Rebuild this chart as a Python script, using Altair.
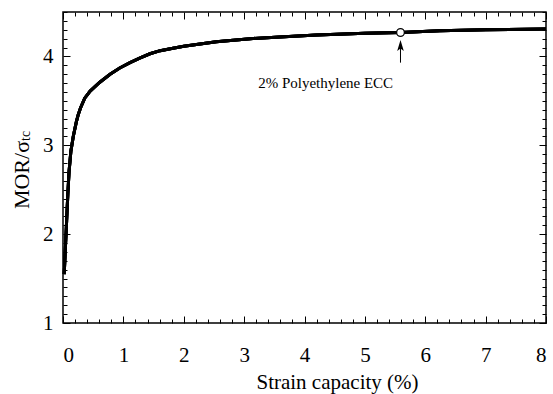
import altair as alt
import pandas as pd

# ---- data ----
strain = [0.02, 0.04, 0.06, 0.08, 0.10, 0.13, 0.17, 0.22, 0.25, 0.29, 0.36,
          0.45, 0.61, 0.78, 0.94, 1.11, 1.27, 1.44, 1.61, 1.80, 2.00, 2.54, 3.10,
          3.59, 4.20, 5.00, 5.59, 6.24, 7.00, 8.00]
mor = [1.55, 1.85, 2.15, 2.45, 2.70, 2.93, 3.10, 3.26, 3.34, 3.42, 3.53,
       3.61, 3.71, 3.80, 3.87, 3.93, 3.98, 4.03, 4.065, 4.09, 4.115, 4.165, 4.20,
       4.22, 4.24, 4.26, 4.27, 4.29, 4.30, 4.31]

marker_x = [5.59]
marker_y = [4.27]
arrow_x = [5.59]
arrow_tail = [3.93]
arrow_head = [4.123]
label_x = [4.35]
label_y = [3.706]
label_text = ["2% Polyethylene ECC"]

x_major = [0, 1, 2, 3, 4, 5, 6, 7, 8]
x_minor = [round(i * 0.2, 1) for i in range(41) if i % 5 != 0]
y_major = [1, 2, 3, 4]
y_minor = [round(1 + i * 0.1, 1) for i in range(36) if i % 10 != 0]

x_title = "Strain capacity (%)"
y_title_main = "MOR/σ"
y_title_sub = "tc"

FONT = "Liberation Serif"
XDOM = [0, 8]
YDOM = [1, 4.5]

curve = pd.DataFrame({"x": strain, "y": mor})
marker = pd.DataFrame({"x": marker_x, "y": marker_y})
arrow = pd.DataFrame({"x": arrow_x, "y": arrow_tail, "y2": arrow_head})
head = pd.DataFrame({"x": arrow_x, "y": arrow_head})
label = pd.DataFrame({"x": label_x, "y": label_y, "t": label_text})

xs = alt.Scale(domain=XDOM, nice=False, zero=False)
ys = alt.Scale(domain=YDOM, nice=False, zero=False)

MAJ = 7
MIN = 4

x_axis_main = alt.Axis(orient="bottom", values=x_major, tickSize=MAJ, offset=-MAJ,
                       domain=False, grid=False, tickColor="black",
                       title=x_title, labelFont=FONT, labelFontSize=21,
                       labelColor="black", labelPadding=21,
                       titleFont=FONT, titleFontSize=21, titleFontWeight="normal",
                       titleColor="black", titlePadding=6, titleX=274)
y_axis_main = alt.Axis(orient="left", values=y_major, tickSize=MAJ, offset=-MAJ,
                       domain=False, grid=False, tickColor="black", title=None,
                       labelFont=FONT, labelFontSize=21, labelColor="black",
                       labelPadding=10)

line = alt.Chart(curve).mark_line(color="black", strokeWidth=3).encode(
    x=alt.X("x:Q", scale=xs, axis=x_axis_main),
    y=alt.Y("y:Q", scale=ys, axis=y_axis_main),
)


def tick_host(xo, xv, xl, yo, yv, yl):
    return alt.Chart(curve).mark_line(color="black", strokeWidth=3).encode(
        x=alt.X("x:Q", scale=xs,
                axis=alt.Axis(orient=xo, values=xv, tickSize=xl, offset=-xl,
                              domain=False, grid=False, labels=False,
                              tickColor="black", title=None)),
        y=alt.Y("y:Q", scale=ys,
                axis=alt.Axis(orient=yo, values=yv, tickSize=yl, offset=-yl,
                              domain=False, grid=False, labels=False,
                              tickColor="black", title=None)),
    )


host1 = tick_host("bottom", x_minor, MIN, "left", y_minor, MIN)
host2 = tick_host("top", x_major, MAJ, "right", y_major, MAJ)
host3 = tick_host("top", x_minor, MIN, "right", y_minor, MIN)

circ = alt.Chart(marker).mark_point(shape="circle", filled=True, fill="white",
                                    stroke="black", strokeWidth=1.3, size=60,
                                    opacity=1).encode(
    x=alt.X("x:Q", scale=xs, axis=None),
    y=alt.Y("y:Q", scale=ys, axis=None),
)

shaft = alt.Chart(arrow).mark_rule(color="black", strokeWidth=1).encode(
    x=alt.X("x:Q", scale=xs, axis=None),
    y=alt.Y("y:Q", scale=ys, axis=None),
    y2="y2:Q",
)

arrowhead = alt.Chart(head).mark_point(shape="M0,-1L0.6,1L0,0.55L-0.6,1Z",
                                       filled=True, color="black", size=121,
                                       opacity=1).encode(
    x=alt.X("x:Q", scale=xs, axis=None),
    y=alt.Y("y:Q", scale=ys, axis=None),
)

text = alt.Chart(label).mark_text(font=FONT, fontSize=15, color="black",
                                  align="center", baseline="middle").encode(
    x=alt.X("x:Q", scale=xs, axis=None),
    y=alt.Y("y:Q", scale=ys, axis=None),
    text="t:N",
)

ytitle_df = pd.DataFrame({"main": [y_title_main], "sub": [y_title_sub]})
ytitle_main = alt.Chart(ytitle_df).mark_text(font=FONT, fontSize=22, color="black",
                                             angle=270, align="right",
                                             baseline="middle").encode(
    x=alt.value(-41), y=alt.value(129), text="main:N")
ytitle_sub = alt.Chart(ytitle_df).mark_text(font=FONT, fontSize=14, color="black",
                                            angle=270, align="left",
                                            baseline="middle").encode(
    x=alt.value(-37), y=alt.value(129), text="sub:N")

chart = alt.layer(line, host1, host2, host3, circ, shaft, arrowhead, text,
                  ytitle_main, ytitle_sub).resolve_axis(
    x="independent", y="independent"
).properties(
    width=483, height=311,
    autosize=alt.AutoSizeParams(type="none"),
    padding={"left": 63, "top": 12, "right": 7, "bottom": 71},
).configure_view(stroke="black", strokeWidth=1.5)

chart.save("out.html", embed_options={"renderer": "svg", "actions": False})
